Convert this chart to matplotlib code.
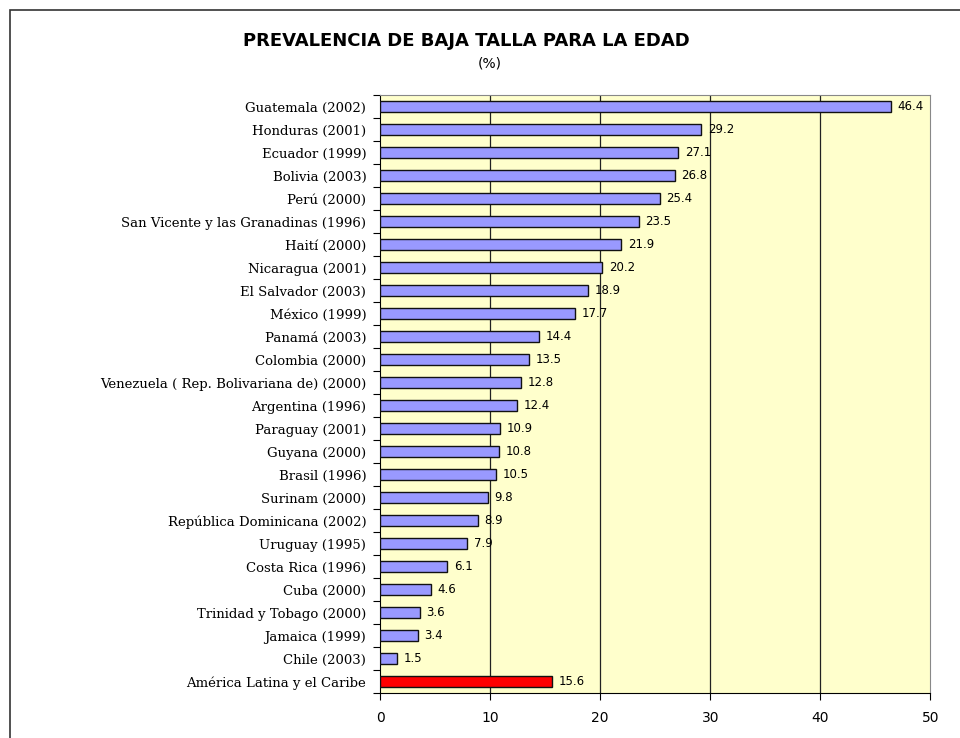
import numpy as np
import matplotlib.pyplot as plt
from matplotlib.patches import Rectangle

# ----------------------------
# DATA
# ----------------------------
countries = [
    "Guatemala (2002)", "Honduras (2001)", "Ecuador (1999)", "Bolivia (2003)",
    "Perú (2000)", "San Vicente y las Granadinas (1996)", "Haití (2000)",
    "Nicaragua (2001)", "El Salvador (2003)", "México (1999)", "Panamá (2003)",
    "Colombia (2000)", "Venezuela ( Rep. Bolivariana de) (2000)",
    "Argentina (1996)", "Paraguay (2001)", "Guyana (2000)", "Brasil (1996)",
    "Surinam (2000)", "República Dominicana (2002)", "Uruguay (1995)",
    "Costa Rica (1996)", "Cuba (2000)", "Trinidad y Tobago (2000)",
    "Jamaica (1999)", "Chile (2003)", "América Latina y el Caribe",
]
values = [46.4, 29.2, 27.1, 26.8, 25.4, 23.5, 21.9, 20.2, 18.9, 17.7, 14.4,
          13.5, 12.8, 12.4, 10.9, 10.8, 10.5, 9.8, 8.9, 7.9, 6.1, 4.6, 3.6,
          3.4, 1.5, 15.6]
x_ticks = [0, 10, 20, 30, 40, 50]

# ----------------------------
# PLOT
# ----------------------------
fig = plt.figure(figsize=(9.6, 7.38), dpi=100)
ax = fig.add_axes([0.396, 0.061, 0.573, 0.810])

n = len(countries)
ypos = np.arange(n)[::-1]
colors = ["#9999FF"] * (n - 1) + ["#FF0000"]
ax.set_facecolor("#FFFFCC")
ax.barh(ypos, values, height=0.46, color=colors, edgecolor="#111111",
        linewidth=1.0, zorder=3)

for y, v in zip(ypos, values):
    ax.text(v + 0.6, y, f"{v:.1f}", va="center", ha="left", fontsize=8.5,
            family="DejaVu Sans", zorder=4)

ax.set_xlim(0, 50)
ax.set_ylim(-0.5, n - 0.5)
ax.set_xticks(x_ticks)
ax.set_xticklabels([str(t) for t in x_ticks], family="DejaVu Sans",
                   fontsize=10)
for x in x_ticks[1:-1]:
    ax.axvline(x, color="#222222", linewidth=0.9, zorder=1)

# category boundaries get the tick marks, labels sit in between
ax.set_yticks(np.arange(n + 1) - 0.5)
ax.set_yticklabels([])
ax.set_yticks(ypos, minor=True)
ax.set_yticklabels(countries, minor=True, family="DejaVu Serif",
                   fontsize=9.5)
ax.tick_params(axis="y", which="major", length=5, direction="out")
ax.tick_params(axis="y", which="minor", length=0, pad=10)
ax.tick_params(axis="x", length=5, direction="out", pad=8)

ax.spines["left"].set_color("black")
ax.spines["bottom"].set_color("black")
ax.spines["top"].set_color("#888888")
ax.spines["right"].set_color("#888888")

fig.text(0.486, 0.945, "PREVALENCIA DE BAJA TALLA PARA LA EDAD",
         ha="center", va="center", fontsize=13, fontweight="bold",
         family="DejaVu Sans")
fig.text(0.51, 0.914, "(%)", ha="center", va="center", fontsize=10,
         family="DejaVu Sans")

# outer chart frame (cut off at right and bottom)
fig.add_artist(Rectangle((10 / 960, -0.2), 1.2, 1.2 - 10 / 738,
                         transform=fig.transFigure, fill=False,
                         edgecolor="#333333", linewidth=1.2, clip_on=False))

fig.savefig("out.png", dpi=100)
